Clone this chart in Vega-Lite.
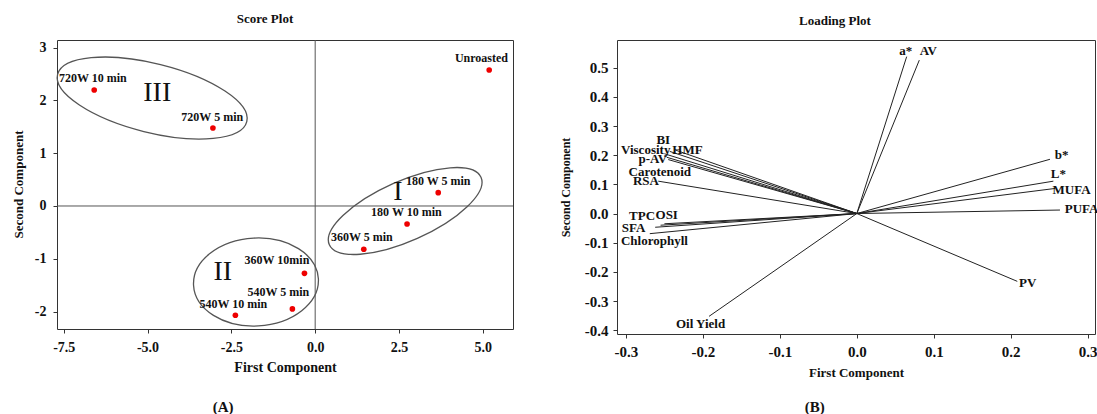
{
  "$schema": "https://vega.github.io/schema/vega-lite/v6.json",
  "padding": {"left": 11, "top": 12, "right": 0, "bottom": 0},
  "background": "white",
  "spacing": 104,
  "bounds": "flush",
  "config": {
    "font": "Liberation Serif",
    "view": {"stroke": "#333", "strokeWidth": 1},
    "axis": {"grid": false, "domain": false, "tickColor": "#333", "tickSize": 4, "labelOverlap": false, "labelExpr": "replace(datum.label, '−', '-')", "labelFont": "Liberation Serif", "labelFontWeight": "bold", "labelColor": "#111", "titleFont": "Liberation Serif", "titleFontWeight": "bold", "titleColor": "#111"},
    "title": {"font": "Liberation Serif", "fontWeight": "bold", "fontSize": 13, "color": "#111"}
  },
  "datasets": {
    "scores": [
      {"sample": "Unroasted", "pc1": 5.19, "pc2": 2.576, "lx": 4.96, "ly": 2.8},
      {"sample": "720W 10 min", "pc1": -6.59, "pc2": 2.197, "lx": -6.63, "ly": 2.42},
      {"sample": "720W 5 min", "pc1": -3.05, "pc2": 1.477, "lx": -3.07, "ly": 1.69},
      {"sample": "180 W 5 min", "pc1": 3.67, "pc2": 0.252, "lx": 3.67, "ly": 0.47},
      {"sample": "180 W 10 min", "pc1": 2.74, "pc2": -0.341, "lx": 2.72, "ly": -0.11},
      {"sample": "360W 5 min", "pc1": 1.45, "pc2": -0.82, "lx": 1.39, "ly": -0.59},
      {"sample": "360W 10min", "pc1": -0.32, "pc2": -1.275, "lx": -1.14, "ly": -1.03},
      {"sample": "540W 5 min", "pc1": -0.68, "pc2": -1.95, "lx": -1.1, "ly": -1.62},
      {"sample": "540W 10 min", "pc1": -2.38, "pc2": -2.07, "lx": -2.44, "ly": -1.85}
    ],
    "axes0": [{"v": 0}],
    "groups": [
      {"group": "III", "cx": -4.861, "cy": 2.045, "tx": -4.71, "ty": 2.146},
      {"group": "I", "cx": 2.684, "cy": -0.095, "tx": 2.47, "ty": 0.256},
      {"group": "II", "cx": -1.766, "cy": -1.44, "tx": -2.753, "ty": -1.246}
    ],
    "loadings": [
      {"variable": "a*", "x0": 0, "y0": 0, "pc1": 0.0648, "pc2": 0.538, "lx": 0.0635, "ly": 0.557},
      {"variable": "AV", "x0": 0, "y0": 0, "pc1": 0.0812, "pc2": 0.526, "lx": 0.0929, "ly": 0.557},
      {"variable": "b*", "x0": 0, "y0": 0, "pc1": 0.251, "pc2": 0.186, "lx": 0.266, "ly": 0.2},
      {"variable": "L*", "x0": 0, "y0": 0, "pc1": 0.2554, "pc2": 0.111, "lx": 0.262, "ly": 0.134},
      {"variable": "MUFA", "x0": 0, "y0": 0, "pc1": 0.2576, "pc2": 0.086, "lx": 0.279, "ly": 0.08},
      {"variable": "PUFA", "x0": 0, "y0": 0, "pc1": 0.264, "pc2": 0.012, "lx": 0.292, "ly": 0.016},
      {"variable": "PV", "x0": 0, "y0": 0, "pc1": 0.2085, "pc2": -0.2325, "lx": 0.222, "ly": -0.237},
      {"variable": "Oil Yield", "x0": 0, "y0": 0, "pc1": -0.192, "pc2": -0.3525, "lx": -0.203, "ly": -0.38},
      {"variable": "BI", "x0": 0, "y0": 0, "pc1": -0.243, "pc2": 0.213, "lx": -0.2515, "ly": 0.252},
      {"variable": "Viscosity", "x0": 0, "y0": 0, "pc1": -0.25, "pc2": 0.205, "lx": -0.2743, "ly": 0.218},
      {"variable": "HMF", "x0": 0, "y0": 0, "pc1": -0.236, "pc2": 0.218, "lx": -0.22, "ly": 0.218},
      {"variable": "p-AV", "x0": 0, "y0": 0, "pc1": -0.247, "pc2": 0.193, "lx": -0.265, "ly": 0.186},
      {"variable": "Carotenoid", "x0": 0, "y0": 0, "pc1": -0.245, "pc2": 0.185, "lx": -0.256, "ly": 0.143},
      {"variable": "RSA", "x0": 0, "y0": 0, "pc1": -0.258, "pc2": 0.111, "lx": -0.274, "ly": 0.111},
      {"variable": "TPC", "x0": 0, "y0": 0, "pc1": -0.255, "pc2": -0.04, "lx": -0.279, "ly": -0.009},
      {"variable": "OSI", "x0": 0, "y0": 0, "pc1": -0.25, "pc2": -0.035, "lx": -0.247, "ly": -0.006},
      {"variable": "SFA", "x0": 0, "y0": 0, "pc1": -0.262, "pc2": -0.047, "lx": -0.29, "ly": -0.051},
      {"variable": "Chlorophyll", "x0": 0, "y0": 0, "pc1": -0.269, "pc2": -0.069, "lx": -0.263, "ly": -0.094}
    ],
    "panelA": [{"tag": "(A)", "x": -2.744, "y": -3.807}],
    "panelB": [{"tag": "(B)", "x": -0.0547, "y": -0.663}]
  },
  "hconcat": [
    {
      "width": 456,
      "height": 289,
      "title": {"text": "Score Plot", "dx": -20, "offset": 14},
      "layer": [
        {
          "data": {"name": "scores"},
          "mark": {"type": "point", "filled": true, "color": "#ee0000", "size": 32, "opacity": 1},
          "encoding": {
            "x": {"field": "pc1", "type": "quantitative", "title": "First Component",
              "scale": {"domain": [-7.7, 5.9], "nice": false, "zero": false},
              "axis": {"values": [-7.5, -5, -2.5, 0, 2.5, 5], "format": ".1f", "labelFontSize": 14, "titleFontSize": 14, "labelPadding": 7, "titlePadding": 6}},
            "y": {"field": "pc2", "type": "quantitative", "title": "Second Component",
              "scale": {"domain": [-2.33, 3.144], "nice": false, "zero": false},
              "axis": {"values": [-2, -1, 0, 1, 2, 3], "format": "d", "labelFontSize": 14, "titleFontSize": 13, "labelPadding": 7, "titleX": -39, "titleY": 144, "titleBaseline": "middle"}}
          }
        },
        {
          "data": {"name": "axes0"},
          "mark": {"type": "rule", "color": "#555", "strokeWidth": 1},
          "encoding": {"x": {"field": "v", "type": "quantitative", "title": "First Component"}}
        },
        {
          "data": {"name": "axes0"},
          "mark": {"type": "rule", "color": "#555", "strokeWidth": 1},
          "encoding": {"y": {"field": "v", "type": "quantitative", "title": "Second Component"}}
        },
        {
          "data": {"name": "groups"},
          "transform": [{"filter": "datum.group === 'III'"}],
          "mark": {"type": "point", "filled": false, "stroke": "#555", "strokeWidth": 1.3, "opacity": 1, "size": 38025, "angle": 14, "shape": "M -1 0 A 1 0.354 0 0 1 1 0 A 1 0.354 0 0 1 -1 0 Z"},
          "encoding": {"x": {"field": "cx", "type": "quantitative", "title": "First Component"}, "y": {"field": "cy", "type": "quantitative", "title": "Second Component"}}
        },
        {
          "data": {"name": "groups"},
          "transform": [{"filter": "datum.group === 'I'"}],
          "mark": {"type": "point", "filled": false, "stroke": "#555", "strokeWidth": 1.3, "opacity": 1, "size": 27556, "angle": -24, "shape": "M -1 0 A 1 0.361 0 0 1 1 0 A 1 0.361 0 0 1 -1 0 Z"},
          "encoding": {"x": {"field": "cx", "type": "quantitative", "title": "First Component"}, "y": {"field": "cy", "type": "quantitative", "title": "Second Component"}}
        },
        {
          "data": {"name": "groups"},
          "transform": [{"filter": "datum.group === 'II'"}],
          "mark": {"type": "point", "filled": false, "stroke": "#555", "strokeWidth": 1.3, "opacity": 1, "size": 15625, "angle": -3, "shape": "M -1 0 A 1 0.704 0 0 1 1 0 A 1 0.704 0 0 1 -1 0 Z"},
          "encoding": {"x": {"field": "cx", "type": "quantitative", "title": "First Component"}, "y": {"field": "cy", "type": "quantitative", "title": "Second Component"}}
        },
        {
          "data": {"name": "groups"},
          "mark": {"type": "text", "font": "Liberation Serif", "fontSize": 28, "color": "#111", "baseline": "middle", "align": "center"},
          "encoding": {"x": {"field": "tx", "type": "quantitative", "title": "First Component"}, "y": {"field": "ty", "type": "quantitative", "title": "Second Component"}, "text": {"field": "group"}}
        },
        {
          "data": {"name": "scores"},
          "mark": {"type": "text", "font": "Liberation Serif", "fontWeight": "bold", "fontSize": 12, "color": "#111", "baseline": "middle", "align": "center"},
          "encoding": {"x": {"field": "lx", "type": "quantitative", "title": "First Component"}, "y": {"field": "ly", "type": "quantitative", "title": "Second Component"}, "text": {"field": "sample"}}
        },
        {
          "data": {"name": "panelA"},
          "mark": {"type": "text", "font": "Liberation Serif", "fontWeight": "bold", "fontSize": 15, "color": "#111", "baseline": "middle", "align": "center"},
          "encoding": {"x": {"field": "x", "type": "quantitative", "title": "First Component"}, "y": {"field": "y", "type": "quantitative", "title": "Second Component"}, "text": {"field": "tag"}}
        }
      ]
    },
    {
      "width": 478,
      "height": 294,
      "title": {"text": "Loading Plot", "dx": -21, "offset": 12},
      "layer": [
        {
          "data": {"name": "loadings"},
          "mark": {"type": "rule", "color": "#222", "strokeWidth": 1},
          "encoding": {
            "x": {"field": "x0", "type": "quantitative", "title": "First Component",
              "scale": {"domain": [-0.3116, 0.3095], "nice": false, "zero": false},
              "axis": {"values": [-0.3, -0.2, -0.1, 0, 0.1, 0.2, 0.3], "format": ".1f", "labelFontSize": 15, "titleFontSize": 13, "labelPadding": 6, "titlePadding": 7}},
            "y": {"field": "y0", "type": "quantitative", "title": "Second Component",
              "scale": {"domain": [-0.413, 0.595], "nice": false, "zero": false},
              "axis": {"values": [-0.4, -0.3, -0.2, -0.1, 0, 0.1, 0.2, 0.3, 0.4, 0.5], "format": ".1f", "labelFontSize": 15, "titleFontSize": 12, "labelPadding": 5, "titleX": -52, "titleY": 147, "titleBaseline": "middle"}},
            "x2": {"field": "pc1"},
            "y2": {"field": "pc2"}
          }
        },
        {
          "data": {"name": "loadings"},
          "mark": {"type": "text", "font": "Liberation Serif", "fontWeight": "bold", "fontSize": 13, "color": "#111", "baseline": "middle", "align": "center"},
          "encoding": {
            "x": {"field": "lx", "type": "quantitative", "title": "First Component",
              "axis": {"values": [-0.3, -0.2, -0.1, 0, 0.1, 0.2, 0.3], "format": ".1f", "labelFontSize": 15, "titleFontSize": 13, "labelPadding": 6, "titlePadding": 7}},
            "y": {"field": "ly", "type": "quantitative", "title": "Second Component",
              "axis": {"values": [-0.4, -0.3, -0.2, -0.1, 0, 0.1, 0.2, 0.3, 0.4, 0.5], "format": ".1f", "labelFontSize": 15, "titleFontSize": 12, "labelPadding": 5, "titleX": -52, "titleY": 147, "titleBaseline": "middle"}},
            "text": {"field": "variable"}}
        },
        {
          "data": {"name": "panelB"},
          "mark": {"type": "text", "font": "Liberation Serif", "fontWeight": "bold", "fontSize": 15, "color": "#111", "baseline": "middle", "align": "center"},
          "encoding": {
            "x": {"field": "x", "type": "quantitative", "title": "First Component",
              "axis": {"values": [-0.3, -0.2, -0.1, 0, 0.1, 0.2, 0.3], "format": ".1f", "labelFontSize": 15, "titleFontSize": 13, "labelPadding": 6, "titlePadding": 7}},
            "y": {"field": "y", "type": "quantitative", "title": "Second Component",
              "axis": {"values": [-0.4, -0.3, -0.2, -0.1, 0, 0.1, 0.2, 0.3, 0.4, 0.5], "format": ".1f", "labelFontSize": 15, "titleFontSize": 12, "labelPadding": 5, "titleX": -52, "titleY": 147, "titleBaseline": "middle"}},
            "text": {"field": "tag"}}
        }
      ]
    }
  ]
}
